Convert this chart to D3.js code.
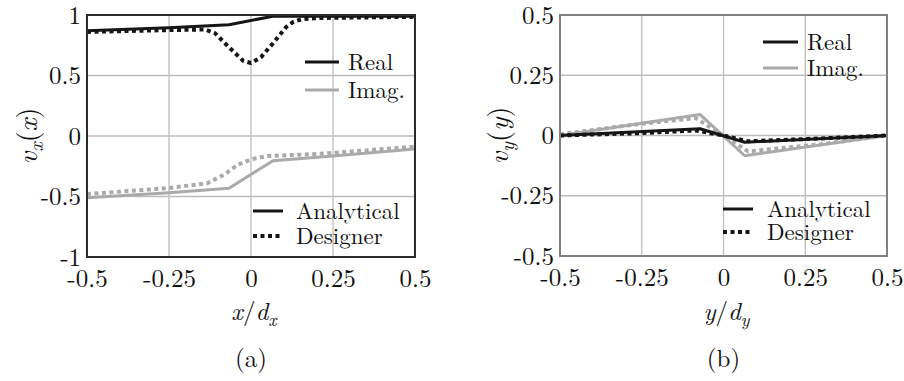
<!DOCTYPE html>
<html>
<head>
<meta charset="utf-8">
<script src="https://cdn.jsdelivr.net/npm/d3@7"></script>
<style>
  html, body { margin: 0; padding: 0; background: #fff; }
  svg { display: block; }
</style>
</head>
<body>
<svg id="fig" width="904" height="381"></svg>
<script>
// ---- panel (a): v_x(x) versus x/d_x ----
const xA = [-0.5, -0.25, -0.067, 0.067, 0.25, 0.5];
const realAnalyticalA = [0.87, 0.895, 0.92, 0.99, 0.99, 0.99];
const imagAnalyticalA = [-0.51, -0.47, -0.432, -0.204, -0.165, -0.107];

const xDesA = [-0.5, -0.25, -0.14, -0.11, -0.067, -0.024, 0, 0.03, 0.067, 0.107, 0.13, 0.155, 0.2, 0.35, 0.5];
const realDesignerA = [0.86, 0.875, 0.88, 0.85, 0.733, 0.622, 0.603, 0.65, 0.766, 0.9, 0.945, 0.965, 0.975, 0.98, 0.985];
const xDesImagA = [-0.5, -0.25, -0.133, -0.082, -0.042, 0, 0.05, 0.2, 0.5];
const imagDesignerA = [-0.48, -0.43, -0.39, -0.32, -0.24, -0.193, -0.165, -0.149, -0.088];

// ---- panel (b): v_y(y) versus y/d_y ----
const xB = [-0.5, -0.072, 0.065, 0.5];
const realAnalyticalB = [0.0, 0.028, -0.028, 0.0];
const imagAnalyticalB = [0.0, 0.0875, -0.084, 0.0];

const xDesB = [-0.5, -0.25, -0.085, 0, 0.075, 0.3, 0.5];
const realDesignerB = [0.0, 0.01, 0.021, 0.0, -0.024, -0.012, 0.0];
const imagDesignerB = [0.005, 0.049, 0.072, 0.0, -0.066, -0.036, 0.0];

const xTicks = [-0.5, -0.25, 0, 0.25, 0.5];
const xTickLabels = ["-0.5", "-0.25", "0", "0.25", "0.5"];
const yTicksA = [-1, -0.5, 0, 0.5, 1];
const yTickLabelsA = ["-1", "-0.5", "0", "0.5", "1"];
const yTicksB = [-0.5, -0.25, 0, 0.25, 0.5];
const yTickLabelsB = ["-0.5", "-0.25", "0", "0.25", "0.5"];

const seriesNames = ["Real", "Imag."];
const methodNames = ["Analytical", "Designer"];

const FONT = "Latin Modern Roman, Liberation Serif, serif";
const BLACK = "#151515", GRAY = "#aaaaaa";
const DOTS = "4,3.5";

const svg = d3.select("#fig").attr("font-family", FONT);

function panel(cfg) {
  const x = d3.scaleLinear().domain([-0.5, 0.5]).range([cfg.left, cfg.right]);
  const y = d3.scaleLinear().domain(cfg.yDomain).range([cfg.bottom, cfg.top]);
  const g = svg.append("g");

  // grid
  g.append("g").selectAll("line").data(xTicks).join("line")
    .attr("x1", d => x(d)).attr("x2", d => x(d))
    .attr("y1", cfg.top).attr("y2", cfg.bottom)
    .attr("stroke", "#bdbdbd").attr("stroke-width", 1.3);
  g.append("g").selectAll("line").data(cfg.yTicks).join("line")
    .attr("x1", cfg.left).attr("x2", cfg.right)
    .attr("y1", d => y(d)).attr("y2", d => y(d))
    .attr("stroke", "#bdbdbd").attr("stroke-width", 1.3);

  // axes (labels only, no tick marks)
  const ax = g.append("g").attr("transform", `translate(0,${cfg.bottom})`)
    .call(d3.axisBottom(x).tickValues(xTicks).tickFormat((d, i) => xTickLabels[i]).tickSize(0).tickPadding(12));
  ax.attr("font-family", FONT).attr("font-size", 25);
  ax.select(".domain").remove();
  ax.selectAll("text").attr("fill", "#111");

  const ay = g.append("g").attr("transform", `translate(${cfg.left},0)`)
    .call(d3.axisLeft(y).tickValues(cfg.yTicks).tickFormat((d, i) => cfg.yLabels[i]).tickSize(0).tickPadding(6));
  ay.attr("font-family", FONT).attr("font-size", 25);
  ay.select(".domain").remove();
  ay.selectAll("text").attr("fill", "#111");

  const line = d3.line().x(d => x(d[0])).y(d => y(d[1]));
  const clipId = "clip" + cfg.id;
  svg.append("clipPath").attr("id", clipId).append("rect")
    .attr("x", cfg.left).attr("y", cfg.top - 3)
    .attr("width", cfg.right - cfg.left).attr("height", cfg.bottom - cfg.top + 6);
  const lines = g.append("g").attr("clip-path", `url(#${clipId})`);

  cfg.curves.forEach(c => {
    lines.append("path")
      .attr("d", line(d3.zip(c.xs, c.ys)))
      .attr("fill", "none")
      .attr("stroke", c.color)
      .attr("stroke-width", c.dotted ? 4 : 3)
      .attr("stroke-dasharray", c.dotted ? DOTS : null)
      .attr("stroke-linejoin", "round");
  });

  // frame
  g.append("rect")
    .attr("x", cfg.left).attr("y", cfg.top)
    .attr("width", cfg.right - cfg.left).attr("height", cfg.bottom - cfg.top)
    .attr("fill", "none").attr("stroke", cfg.frame).attr("stroke-width", 2);

  // legends
  const L = cfg.legend;
  [BLACK, GRAY].forEach((col, i) => {
    const yy = L.sy[i];
    g.append("line").attr("x1", L.sx0).attr("x2", L.sx1).attr("y1", yy).attr("y2", yy)
      .attr("stroke", col).attr("stroke-width", 3);
    g.append("text").attr("x", L.stx).attr("y", yy).attr("dy", "0.33em")
      .attr("font-size", 23).attr("fill", "#111").text(seriesNames[i]);
  });
  [false, true].forEach((dotted, i) => {
    const yy = L.my[i];
    g.append("line").attr("x1", L.mx0).attr("x2", L.mx1).attr("y1", yy).attr("y2", yy)
      .attr("stroke", BLACK).attr("stroke-width", dotted ? 4 : 3)
      .attr("stroke-dasharray", dotted ? DOTS : null);
    g.append("text").attr("x", L.mtx).attr("y", yy).attr("dy", "0.33em")
      .attr("font-size", 23).attr("fill", "#111").text(methodNames[i]);
  });

  // y axis title v_s(s)
  const cy = (cfg.top + cfg.bottom) / 2;
  const yt = g.append("text")
    .attr("transform", `translate(${cfg.yTitleX},${cy}) rotate(-90)`)
    .attr("text-anchor", "middle").attr("font-size", 28).attr("fill", "#111");
  yt.append("tspan").attr("font-style", "italic").text("v");
  yt.append("tspan").attr("font-style", "italic").attr("font-size", 20).attr("dy", 6).text(cfg.v);
  yt.append("tspan").attr("dy", -6).text("(");
  yt.append("tspan").attr("font-style", "italic").text(cfg.v);
  yt.append("tspan").text(")");

  // x axis title s/d_s
  const cx = x(0);
  const xt = g.append("text").attr("x", cx + 3).attr("y", 320)
    .attr("text-anchor", "middle").attr("font-size", 25).attr("fill", "#111");
  xt.append("tspan").attr("font-style", "italic").text(cfg.v);
  xt.append("tspan").text("/");
  xt.append("tspan").attr("font-style", "italic").text("d");
  xt.append("tspan").attr("font-style", "italic").attr("font-size", 18).attr("dy", 6).text(cfg.v);

  g.append("text").attr("x", cx).attr("y", 367)
    .attr("text-anchor", "middle").attr("font-size", 25).attr("fill", "#111").text(cfg.tag);
}

panel({
  id: "a", left: 87, right: 415, top: 15, bottom: 257,
  yDomain: [-1, 1], yTicks: yTicksA, yLabels: yTickLabelsA,
  frame: "#2a2a2a", v: "x", tag: "(a)", yTitleX: 37,
  curves: [
    { xs: xDesImagA, ys: imagDesignerA, color: GRAY, dotted: true },
    { xs: xA, ys: imagAnalyticalA, color: GRAY, dotted: false },
    { xs: xDesA, ys: realDesignerA, color: BLACK, dotted: true },
    { xs: xA, ys: realAnalyticalA, color: BLACK, dotted: false }
  ],
  legend: { sx0: 305, sx1: 339, stx: 348, sy: [62, 90],
            mx0: 253, mx1: 283, mtx: 296, my: [211, 236] }
});

panel({
  id: "b", left: 560, right: 887, top: 15, bottom: 256,
  yDomain: [-0.5, 0.5], yTicks: yTicksB, yLabels: yTickLabelsB,
  frame: "#808080", v: "y", tag: "(b)", yTitleX: 508,
  curves: [
    { xs: xDesB, ys: imagDesignerB, color: GRAY, dotted: true },
    { xs: xB, ys: imagAnalyticalB, color: GRAY, dotted: false },
    { xs: xDesB, ys: realDesignerB, color: BLACK, dotted: true },
    { xs: xB, ys: realAnalyticalB, color: BLACK, dotted: false }
  ],
  legend: { sx0: 763, sx1: 798, stx: 807, sy: [42, 68],
            mx0: 723, mx1: 753, mtx: 767, my: [209, 232] }
});
</script>
</body>
</html>
